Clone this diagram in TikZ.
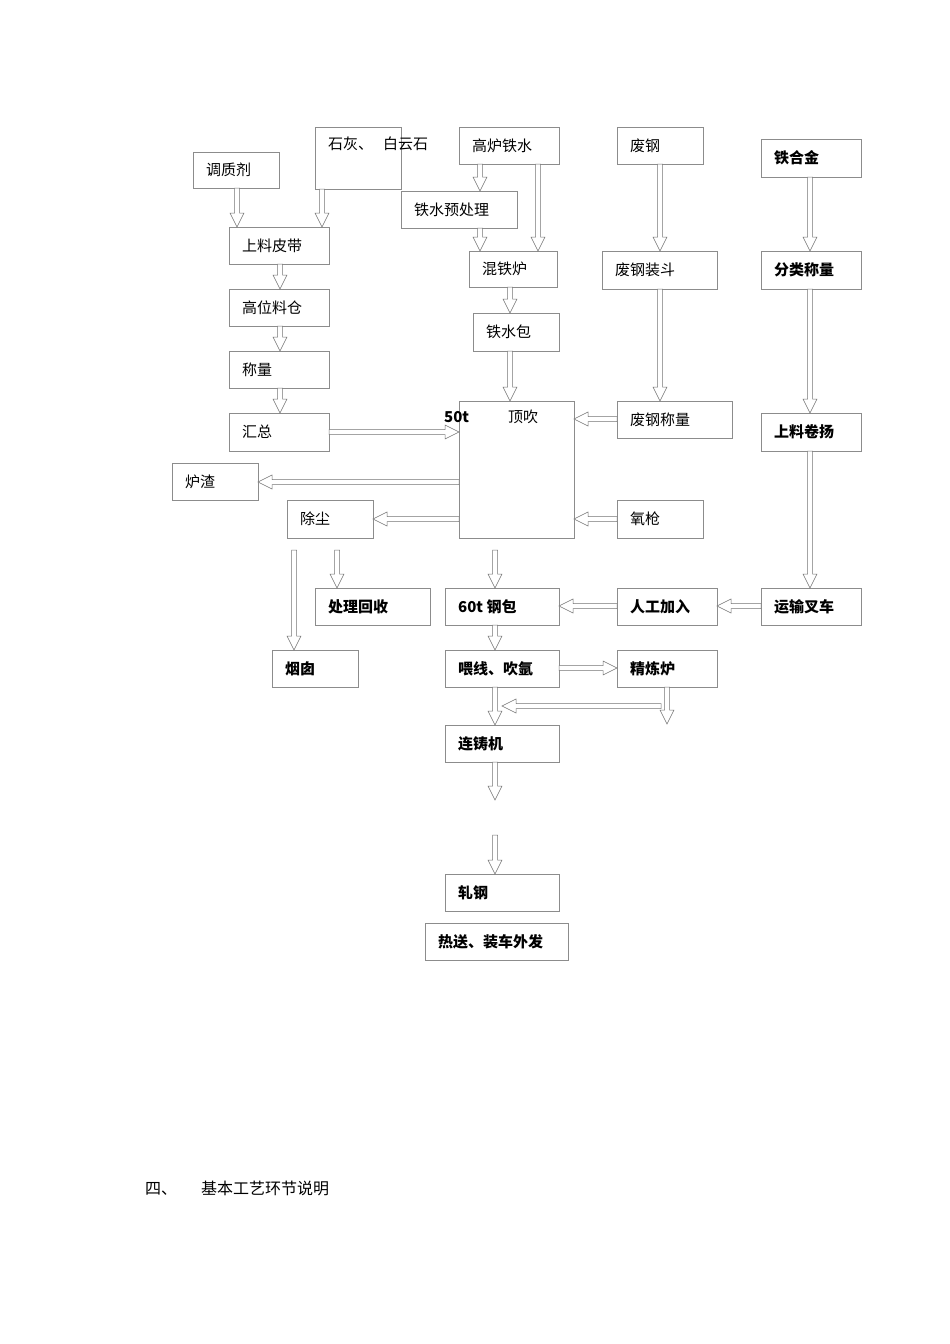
\documentclass[tikz,border=0pt]{standalone}
\usepackage{fontspec}
\setmainfont{Noto Sans CJK SC}
\usetikzlibrary{calc}
\tikzset{bx/.style={draw=black!45,line width=0.6pt},
 arr/.style={draw=black!55,line width=0.5pt,fill=white},
 tx/.style={anchor=west,inner sep=0pt,font=\fontsize{15}{15}\selectfont},
 bt/.style={tx,font=\fontsize{15}{15}\selectfont\bfseries}}
\newcommand\bxx[7]{\path[bx] (#2,#3) rectangle (#4,#5); \coordinate (#1-n) at ({(#2+#4)/2},#3);
 \node[#7] (#1) at (#2+13,{(#3+#5)/2}) {#6};}
\newcommand\vdn[3]{\draw[arr] let \p1=(#2), \p2=(#3) in (#1-2.5,\y1) -- (#1-2.5,\y2+14) -- (#1-7,\y2+14) -- (#1,\y2) -- (#1+7,\y2+14) -- (#1+2.5,\y2+14) -- (#1+2.5,\y1) -- cycle;}
\newcommand\hlr[3]{\draw[arr] let \p1=(#2), \p2=(#3) in (\x1,#1-2.5) -- (\x2-14,#1-2.5) -- (\x2-14,#1-7) -- (\x2,#1) -- (\x2-14,#1+7) -- (\x2-14,#1+2.5) -- (\x1,#1+2.5) -- cycle;}
\newcommand\hrl[3]{\draw[arr] let \p1=(#2), \p2=(#3) in (\x1,#1-2.5) -- (\x2+14,#1-2.5) -- (\x2+14,#1-7) -- (\x2,#1) -- (\x2+14,#1+7) -- (\x2+14,#1+2.5) -- (\x1,#1+2.5) -- cycle;}
\begin{document}
\begin{tikzpicture}[x=1pt,y=-1pt]
\useasboundingbox (0,0) rectangle (950,1344);
\bxx{tz}{193}{152}{279}{188}{调质剂}{tx}
\path[bx] (315,127) rectangle (401,189);
\node[tx] (sh) at (328,144) {石灰、\hspace{10pt}白云石};
\bxx{gl}{459}{127}{559}{164}{高炉铁水}{tx}
\bxx{fg}{617}{127}{703}{164}{废钢}{tx}
\bxx{thj}{761}{139}{861}{177}{铁合金}{bt}
\bxx{sl}{229}{227}{329}{264}{上料皮带}{tx}
\bxx{ys}{401}{191}{517}{228}{铁水预处理}{tx}
\bxx{ht}{469}{251}{557}{287}{混铁炉}{tx}
\bxx{fz}{602}{251}{717}{289}{废钢装斗}{tx}
\bxx{fl}{761}{251}{861}{289}{分类称量}{bt}
\bxx{gw}{229}{289}{329}{326}{高位料仓}{tx}
\bxx{tb}{473}{313}{559}{351}{铁水包}{tx}
\bxx{cl}{229}{351}{329}{388}{称量}{tx}
\bxx{hz}{229}{413}{329}{451}{汇总}{tx}
\path[bx] (459,401) rectangle (574,538);
\node[bt] (z50) at (444,417) {50t};
\node[tx] (zdc) at (508,417) {顶吹};
\bxx{fcl}{617}{401}{732}{438}{废钢称量}{tx}
\bxx{sj}{761}{413}{861}{451}{上料卷扬}{bt}
\bxx{lz}{172}{463}{258}{500}{炉渣}{tx}
\bxx{cc}{287}{500}{373}{538}{除尘}{tx}
\bxx{yq}{617}{500}{703}{538}{氧枪}{tx}
\bxx{hs}{315}{588}{430}{625}{处理回收}{bt}
\bxx{gb}{445}{588}{559}{625}{60t 钢包}{bt}
\bxx{rg}{617}{588}{717}{625}{人工加入}{bt}
\bxx{cs}{761}{588}{861}{625}{运输叉车}{bt}
\bxx{yc}{272}{650}{358}{687}{烟囱}{bt}
\bxx{wx}{445}{650}{559}{687}{喂线、吹氩}{bt}
\bxx{jl}{617}{650}{717}{687}{精炼炉}{bt}
\bxx{lzj}{445}{725}{559}{762}{连铸机}{bt}
\bxx{zg}{445}{874}{559}{911}{轧钢}{bt}
\bxx{rs}{425}{923}{568}{960}{热送、装车外发}{bt}
\node[tx,font=\fontsize{16}{16}\selectfont] (title) at (145,1188) {四、\hspace{24pt}基本工艺环节说明};
\vdn{237}{0,188}{0,227}
\vdn{322}{0,189}{0,227}
\vdn{480}{0,164}{0,191}
\vdn{538}{0,164}{0,251}
\vdn{480}{0,228}{0,251}
\vdn{280}{0,264}{0,289}
\vdn{280}{0,326}{0,351}
\vdn{280}{0,388}{0,413}
\vdn{510}{0,287}{0,313}
\vdn{510}{0,351}{0,401}
\vdn{660}{0,164}{0,251}
\vdn{660}{0,289}{0,401}
\hrl{419}{617,0}{574,0}
\hlr{432}{329,0}{459,0}
\hrl{482}{459,0}{258,0}
\hrl{519}{459,0}{373,0}
\hrl{519}{617,0}{574,0}
\vdn{810}{0,177}{0,251}
\vdn{810}{0,289}{0,413}
\vdn{810}{0,451}{0,588}
\hrl{606}{761,0}{717,0}
\hrl{606}{617,0}{559,0}
\vdn{294}{0,550}{0,650}
\vdn{337}{0,550}{0,588}
\vdn{495}{0,550}{0,588}
\vdn{495}{0,625}{0,650}
\hlr{668}{559,0}{617,0}
\vdn{667}{0,687}{0,724}
\hrl{706}{661,0}{502,0}
\vdn{495}{0,687}{0,725}
\vdn{495}{0,762}{0,800}
\vdn{495}{0,835}{0,874}
\end{tikzpicture}
\end{document}
